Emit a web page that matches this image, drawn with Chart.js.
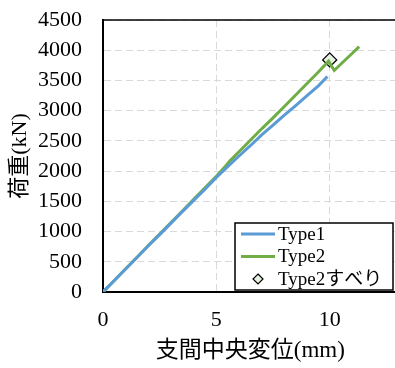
<!DOCTYPE html>
<html>
<head>
<meta charset="utf-8">
<script src="https://cdn.jsdelivr.net/npm/chart.js@4.4.0/dist/chart.umd.min.js"></script>
<style>
  html, body { margin: 0; padding: 0; background: #fff; overflow: hidden; }
  #wrap { width: 406px; height: 368px; }
</style>
</head>
<body>
<div id="wrap"><canvas id="loadChart"></canvas></div>
<script>
// Data
const seriesNames = ['Type1', 'Type2', 'Type2すべり'];

const type1X = [0, 0.5, 1, 1.5, 2, 2.5, 3, 3.5, 4, 4.5, 5, 5.5, 6, 6.5, 7, 7.5, 8, 8.5, 9, 9.5, 9.9];
const type1Y = [0, 190, 380, 570, 765, 950, 1140, 1330, 1515, 1700, 1895, 2075, 2250, 2420, 2600, 2760, 2925, 3085, 3250, 3410, 3565];

const type2X = [0, 0.5, 1, 1.5, 2, 2.5, 3, 3.5, 4, 4.5, 5, 5.4, 5.6, 6, 6.5, 7, 7.5, 8, 8.5, 9, 9.5, 9.95, 10.2, 10.6, 11.0, 11.3];
const type2Y = [0, 190, 385, 575, 770, 960, 1150, 1340, 1535, 1725, 1915, 2080, 2170, 2320, 2510, 2700, 2880, 3070, 3260, 3450, 3640, 3820, 3665, 3810, 3950, 4060];

const slipX = [10.0];
const slipY = [3840];

const xMin = 0, xMax = 13, xStep = 5;
const yMin = 0, yMax = 4500, yStep = 500;

const xTitle = '支間中央変位(mm)';
const yTitle = '荷重(kN)';

const FONT = "'Times New Roman', 'Liberation Serif', 'Noto Sans CJK JP', serif";
const BLUE = '#5b9bd5';
const GREEN = '#70ad47';
const GRID = '#d9d9d9';

function toPoints(xs, ys) {
    return xs.map((x, i) => ({ x: x, y: ys[i] }));
}

// Top frame line
const topFrame = {
    id: 'topFrame',
    afterDatasetsDraw(chart) {
        const { ctx, chartArea } = chart;
        ctx.save();
        ctx.strokeStyle = '#000';
        ctx.lineWidth = 1.5;
        ctx.beginPath();
        ctx.moveTo(chartArea.left, chartArea.top);
        ctx.lineTo(chartArea.right, chartArea.top);
        ctx.stroke();
        ctx.restore();
    }
};

// Boxed legend inside the plot, bottom right
const boxLegend = {
    id: 'boxLegend',
    afterDraw(chart) {
        const ctx = chart.ctx;
        const box = { x: 235, y: 223, w: 158, h: 67 };
        ctx.save();
        ctx.fillStyle = '#fff';
        ctx.fillRect(box.x, box.y, box.w, box.h);
        ctx.strokeStyle = '#000';
        ctx.lineWidth = 1.5;
        ctx.strokeRect(box.x, box.y, box.w, box.h);

        ctx.font = '19px ' + FONT;
        ctx.textBaseline = 'middle';
        ctx.textAlign = 'left';
        chart.data.datasets.forEach((ds, i) => {
            const y = box.y + 11 + i * 22.5;
            if (ds.showLine) {
                ctx.strokeStyle = ds.borderColor;
                ctx.lineWidth = 3;
                ctx.beginPath();
                ctx.moveTo(241, y);
                ctx.lineTo(275, y);
                ctx.stroke();
            } else {
                const r = 5;
                ctx.fillStyle = ds.pointBackgroundColor;
                ctx.strokeStyle = ds.pointBorderColor;
                ctx.lineWidth = 1.2;
                ctx.beginPath();
                ctx.moveTo(258, y - r);
                ctx.lineTo(258 + r, y);
                ctx.lineTo(258, y + r);
                ctx.lineTo(258 - r, y);
                ctx.closePath();
                ctx.fill();
                ctx.stroke();
            }
            ctx.fillStyle = '#000';
            ctx.fillText(ds.label, 278, y + 1);
        });
        ctx.restore();
    }
};

new Chart(document.getElementById('loadChart'), {
    type: 'scatter',
    data: {
        datasets: [
            {
                label: seriesNames[0],
                data: toPoints(type1X, type1Y),
                showLine: true,
                borderColor: BLUE,
                borderWidth: 3,
                pointRadius: 0,
                tension: 0
            },
            {
                label: seriesNames[1],
                data: toPoints(type2X, type2Y),
                showLine: true,
                borderColor: GREEN,
                borderWidth: 3,
                pointRadius: 0,
                tension: 0
            },
            {
                label: seriesNames[2],
                data: toPoints(slipX, slipY),
                showLine: false,
                pointStyle: 'rectRot',
                pointRadius: 7,
                pointBackgroundColor: 'rgba(226, 239, 218, 0.85)',
                pointBorderColor: '#000',
                pointBorderWidth: 1.3
            }
        ]
    },
    options: {
        responsive: true,
        maintainAspectRatio: false,
        animation: false,
        devicePixelRatio: 1,
        layout: { padding: { top: 20, right: 3, left: 0, bottom: 0 } },
        plugins: {
            legend: { display: false },
            tooltip: { enabled: false }
        },
        scales: {
            x: {
                type: 'linear',
                min: xMin,
                max: xMax,
                afterBuildTicks: scale => {
                    // keep only the 5 mm steps, drop the extra tick Chart.js adds at max
                    scale.ticks = scale.ticks.filter(t => t.value % xStep === 0);
                },
                ticks: {
                    stepSize: xStep,
                    autoSkip: false,
                    padding: 3,
                    color: '#000',
                    font: { size: 22, family: FONT },
                    callback: v => String(v)
                },
                grid: {
                    drawTicks: true,
                    tickLength: 12,
                    tickColor: 'rgba(0,0,0,0)',
                    lineWidth: 1,
                    color: ctx => ctx.tick && ctx.tick.value === 0 ? 'rgba(0,0,0,0)' : GRID
                },
                border: { color: '#000', width: 2, dash: [7, 4] },
                title: {
                    display: true,
                    text: xTitle,
                    color: '#000',
                    padding: { top: 0, bottom: 3 },
                    font: { size: 23, family: FONT }
                },
                afterFit: scale => { scale.height = 76; }
            },
            y: {
                type: 'linear',
                min: yMin,
                max: yMax,
                ticks: {
                    stepSize: yStep,
                    autoSkip: false,
                    padding: 3,
                    color: '#000',
                    font: { size: 22, family: FONT },
                    callback: v => String(v)
                },
                grid: {
                    drawTicks: true,
                    tickLength: 18,
                    tickColor: 'rgba(0,0,0,0)',
                    lineWidth: 1,
                    color: ctx => ctx.tick && ctx.tick.value === 0 ? 'rgba(0,0,0,0)' : GRID
                },
                border: { color: '#000', width: 2, dash: [7, 4] },
                title: {
                    display: true,
                    text: yTitle,
                    color: '#000',
                    padding: { top: 7, bottom: 0 },
                    font: { size: 22, family: FONT }
                },
                afterFit: scale => { scale.width = 103; }
            }
        }
    },
    plugins: [topFrame, boxLegend]
});
</script>
</body>
</html>
